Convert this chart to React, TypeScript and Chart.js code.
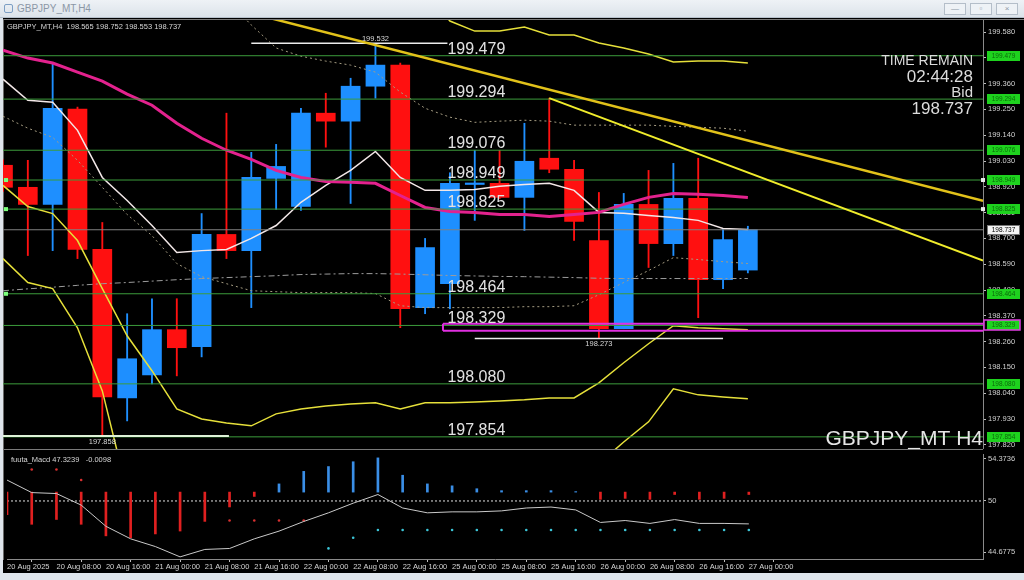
import React, { useEffect, useRef } from 'react';
import { Chart, registerables } from 'chart.js';

Chart.register(...registerables);

// ---------- data ----------
const windowTitle = 'GBPJPY_MT,H4';
const infoText = 'GBPJPY_MT,H4  198.565 198.752 198.553 198.737';
const macdInfo = 'fuuta_Macd 47.3239   -0.0098';
const symbolText = 'GBPJPY_MT H4';
const timeRemainLines = ['TIME REMAIN', '02:44:28', 'Bid', '198.737'];

const timeTickBars = [0, 2, 4, 6, 8, 10, 12, 14, 16, 18, 20, 22, 24, 26, 28, 30];
const timeTickLabels = [
  '20 Aug 2025', '20 Aug 08:00', '20 Aug 16:00', '21 Aug 00:00', '21 Aug 08:00', '21 Aug 16:00',
  '22 Aug 00:00', '22 Aug 08:00', '22 Aug 16:00', '25 Aug 00:00', '25 Aug 08:00', '25 Aug 16:00',
  '26 Aug 00:00', '26 Aug 08:00', '26 Aug 16:00', '27 Aug 00:00',
];

const opens = [199.012, 198.918, 198.845, 199.251, 198.653, 198.020, 198.118, 198.311, 198.238, 198.717,
  198.648, 198.956, 198.836, 199.234, 199.200, 199.349, 199.439, 198.405, 198.507, 198.930,
  198.935, 198.875, 199.042, 198.995, 198.691, 198.315, 198.845, 198.678, 198.871, 198.524, 198.565];
const highs = [199.035, 199.033, 199.448, 199.260, 198.768, 198.379, 198.443, 198.443, 198.806, 199.234,
  199.067, 199.101, 199.255, 199.319, 199.383, 199.532, 199.448, 198.700, 198.980, 199.076,
  199.076, 199.191, 199.298, 199.033, 198.896, 198.892, 198.990, 199.020, 199.042, 198.742, 198.752];
const lows = [198.900, 198.627, 198.648, 198.614, 197.858, 197.922, 198.080, 198.114, 198.195, 198.614,
  198.405, 198.824, 198.819, 199.089, 198.849, 199.298, 198.319, 198.379, 198.400, 198.777,
  198.870, 198.734, 198.980, 198.691, 198.273, 198.315, 198.576, 198.627, 198.362, 198.486, 198.553];
const closes = [198.918, 198.845, 199.255, 198.653, 198.024, 198.187, 198.311, 198.234, 198.717, 198.648,
  198.960, 199.007, 199.234, 199.200, 199.349, 199.439, 198.401, 198.661, 198.935, 198.936,
  198.875, 199.029, 198.995, 198.772, 198.315, 198.845, 198.678, 198.871, 198.524, 198.695, 198.737];

const maMagenta = [199.503, 199.469, 199.448, 199.409, 199.371, 199.315, 199.268, 199.191, 199.127, 199.076,
  199.037, 198.990, 198.960, 198.943, 198.939, 198.935, 198.883, 198.832, 198.815, 198.811,
  198.802, 198.802, 198.794, 198.802, 198.811, 198.845, 198.875, 198.892, 198.888, 198.883, 198.875];
const maWhite = [199.379, 199.289, 199.281, 199.161, 198.960, 198.862, 198.755, 198.640, 198.648, 198.653,
  198.700, 198.755, 198.854, 198.926, 198.990, 199.071, 198.960, 198.905, 198.905, 198.909,
  198.922, 198.930, 198.935, 198.905, 198.811, 198.807, 198.798, 198.789, 198.777, 198.742, 198.738];
const bandUpper = [null, null, null, null, null, null, null, null, null, null,
  null, null, null, null, null, null, null, 199.750, 199.627, 199.584,
  199.584, 199.601, 199.567, 199.567, 199.533, 199.512, 199.486, 199.452, 199.456, 199.456, 199.448];
const bandLowerA = [198.926, 198.836, 198.806, 198.691, 198.486, 198.285, 198.136, 197.973, 197.930, 197.913,
  197.901, 197.952, 197.973, 197.986, 197.994, 197.999, 197.973, 197.999, 197.999, 198.003,
  198.007, 198.012, 198.020, 198.020, 198.084, 198.170, 198.251, 198.328, 198.319, 198.315, 198.311];
const bandLowerB = [198.614, 198.512, 198.486, 198.319, 198.050, 197.620, null, null, null, null,
  null, null, null, null, null, null, null, null, null, null,
  null, null, null, null, 197.740, 197.832, 197.918, 198.059, 198.033, 198.024, 198.016];
const dottedUpper = [null, null, null, null, null, null, null, null, null, 199.720,
  199.610, 199.512, 199.477, 199.456, 199.439, 199.409, 199.324, 199.255, 199.217, 199.195,
  199.200, 199.204, 199.200, 199.183, 199.183, 199.183, 199.183, 199.178, 199.174, 199.170, 199.157];
const dottedLower = [199.221, 199.170, 199.131, 199.033, 198.918, 198.802, 198.712, 198.593, 198.537, 198.507,
  198.477, 198.473, 198.469, 198.469, 198.469, 198.465, 198.413, 198.405, 198.405, 198.405,
  198.405, 198.409, 198.409, 198.413, 198.460, 198.512, 198.563, 198.618, 198.610, 198.601, 198.593];
const dashDotMid = [198.477, 198.485, 198.492, 198.500, 198.507, 198.512, 198.518, 198.524, 198.529, 198.533,
  198.537, 198.541, 198.546, 198.548, 198.550, 198.550, 198.548, 198.545, 198.542, 198.540,
  198.538, 198.537, 198.535, 198.533, 198.530, 198.529, 198.529, 198.529, 198.529, 198.529, 198.529];

const trendLine1 = [{ x: 10, y: 199.660 }, { x: 39.47, y: 198.860 }];
const trendLine2 = [{ x: 22, y: 199.298 }, { x: 39.47, y: 198.606 }];

const levelPrices = [199.479, 199.294, 199.076, 198.949, 198.825, 198.464, 198.329, 198.080, 197.854];
const leftMarkLevels = [198.949, 198.825, 198.464];
const bidPrice = 198.737;
const markerPrices = [199.532, 198.273, 197.858];
const markerBars = [15, 24, 4];
const markerFrom = [10, 19, 0];
const markerTo = [17.9, 29, 9.1];
const rectTop = 198.336;
const rectBottom = 198.306;
const rectFrom = 17.72;
const levelLabelBar = 17.9;

const priceTicks = [199.58, 199.47, 199.36, 199.25, 199.14, 199.03, 198.92, 198.81, 198.70, 198.59,
  198.48, 198.37, 198.26, 198.15, 198.04, 197.93, 197.82];

const macdLine = [52.17, 50.87, 50.77, 49.57, 47.37, 46.07, 45.27, 44.20, 44.97, 45.07,
  46.07, 46.87, 47.87, 48.77, 49.77, 50.67, 49.27, 48.77, 48.87, 48.87,
  48.97, 49.27, 49.37, 49.07, 47.77, 47.97, 47.67, 48.07, 47.67, 47.67, 47.62];
const macdHist = [48.57, 47.58, 48.08, 47.58, 46.38, 46.18, 46.58, 46.88, 47.88, 49.38,
  50.47, 51.77, 53.07, 53.57, 54.07, 54.47, 52.67, 51.77, 51.57, 51.27,
  51.07, 51.07, 51.07, 50.97, 50.17, 50.27, 50.17, 50.67, 50.17, 50.27, 50.67];
const macdBase = 50.92;
const macdRedDotsHigh = [null, 53.27, 53.27, 52.17];
const macdRedDotsLow = [null, null, null, null, null, null, null, null, null, 47.98, 47.98, 47.98, 47.98];
const macdCyanDots = [null, null, null, null, null, null, null, null, null, null,
  null, null, null, 45.08, 46.18, 46.98, 46.98, 46.98, 46.98, 46.98,
  46.98, 46.98, 46.98, 46.98, 46.98, 46.98, 46.98, 46.98, 46.98, 46.98, 46.98];
const macdTicks = [54.3736, 50, 44.6775];
const macdTickLabels = ['54.3736', '50', '44.6775'];

// ---------- helpers ----------
const X_MAX = 39.47;
const FONT = '"Liberation Sans", Arial, sans-serif';
const toXY = (arr: (number | null)[]) => arr.map((v, i) => ({ x: i, y: v }));
const candleColor = (i: number) => (closes[i] >= opens[i] ? '#1e8fff' : '#ff1010');

const lineDs = (data: any[], color: string, width: number, order: number, dash: number[] = []) => ({
  type: 'line' as const,
  data,
  borderColor: color,
  borderWidth: width,
  borderDash: dash,
  pointRadius: 0,
  tension: 0,
  fill: false,
  spanGaps: false,
  order,
});

const dotDs = (arr: (number | null)[], color: string, order: number) => ({
  type: 'line' as const,
  data: toXY(arr),
  showLine: false,
  pointRadius: 1.3,
  pointBorderWidth: 0,
  pointBackgroundColor: color,
  order,
});

const fixAxisWidth = (w: number) => (s: any) => {
  s.width = w;
  s.paddingTop = 0; s.paddingBottom = 0; s.paddingLeft = 0; s.paddingRight = 0;
};
const fixAxisHeight = (h: number) => (s: any) => {
  s.height = h;
  s.paddingTop = 0; s.paddingBottom = 0; s.paddingLeft = 0; s.paddingRight = 0;
};

const mainOverlay = {
  id: 'mainOverlay',
  afterDatasetsDraw(chart: any) {
    const { ctx, chartArea: ca, scales } = chart;
    const xs = scales.x;
    const ys = scales.y;
    ctx.save();
    // info text
    ctx.font = `7.5px ${FONT}`;
    ctx.fillStyle = '#d6d6d6';
    ctx.textAlign = 'left';
    ctx.textBaseline = 'middle';
    ctx.fillText(infoText, ca.left + 4, ca.top + 7);

    // level labels
    ctx.font = `16px ${FONT}`;
    ctx.fillStyle = '#e2e2e2';
    ctx.textBaseline = 'alphabetic';
    const lx = xs.getPixelForValue(levelLabelBar);
    levelPrices.forEach((v) => ctx.fillText(v.toFixed(3), lx, ys.getPixelForValue(v) - 2));

    // marker labels
    ctx.font = `7.5px ${FONT}`;
    ctx.fillStyle = '#d8d8d8';
    ctx.textAlign = 'center';
    markerPrices.forEach((p, i) => {
      const px = xs.getPixelForValue(markerBars[i]);
      const py = ys.getPixelForValue(p);
      if (i === 0) {
        ctx.textBaseline = 'bottom';
        ctx.fillText(p.toFixed(3), px, py - 1);
      } else {
        ctx.textBaseline = 'top';
        ctx.fillText(p.toFixed(3), px, py + 2);
      }
    });

    // time remain block
    ctx.textAlign = 'right';
    ctx.textBaseline = 'middle';
    ctx.fillStyle = '#dcdcdc';
    const rx = ca.right - 10;
    ctx.font = `14px ${FONT}`;
    ctx.fillText(timeRemainLines[0], rx, ca.top + 41);
    ctx.font = `17px ${FONT}`;
    ctx.fillText(timeRemainLines[1], rx, ca.top + 57);
    ctx.font = `15px ${FONT}`;
    ctx.fillText(timeRemainLines[2], rx, ca.top + 73);
    ctx.font = `17px ${FONT}`;
    ctx.fillText(timeRemainLines[3], rx, ca.top + 89);

    // symbol
    ctx.font = `21px ${FONT}`;
    ctx.fillStyle = '#e6e6e6';
    ctx.textBaseline = 'alphabetic';
    ctx.fillText(symbolText, ca.right, ca.bottom - 4);

    // left small marks
    ctx.fillStyle = '#7dff7d';
    leftMarkLevels.forEach((v) => {
      const py = ys.getPixelForValue(v);
      ctx.fillRect(ca.left + 1, py - 2, 4, 4);
    });
    ctx.fillStyle = '#e8e8e8';
    leftMarkLevels.slice(0, 2).forEach((v) => {
      const py = ys.getPixelForValue(v);
      ctx.fillRect(ca.right - 2, py - 2, 4, 4);
    });

    // price axis boxes
    ctx.font = `6.5px ${FONT}`;
    ctx.textAlign = 'center';
    ctx.textBaseline = 'middle';
    const bx = ca.right + 4;
    const bw = 33;
    levelPrices.forEach((v) => {
      const py = Math.round(ys.getPixelForValue(v));
      ctx.fillStyle = '#1ed21e';
      ctx.fillRect(bx, py - 5, bw, 10);
      if (Math.abs(v - 198.329) < 1e-6) {
        ctx.strokeStyle = '#e23ce2';
        ctx.lineWidth = 1.5;
        ctx.strokeRect(bx - 3, py - 5, bw + 3, 10);
      }
      ctx.fillStyle = '#0b6a0b';
      ctx.fillText(v.toFixed(3), bx + bw / 2, py + 0.5);
    });
    const by = Math.round(ys.getPixelForValue(bidPrice));
    ctx.fillStyle = '#f4f4f4';
    ctx.fillRect(bx, by - 5, bw, 10);
    ctx.strokeStyle = '#777';
    ctx.lineWidth = 1;
    ctx.strokeRect(bx + 0.5, by - 4.5, bw - 1, 9);
    ctx.fillStyle = '#000';
    ctx.fillText(bidPrice.toFixed(3), bx + bw / 2, by + 0.5);
    ctx.restore();
  },
};

const subOverlay = {
  id: 'subOverlay',
  afterDatasetsDraw(chart: any) {
    const { ctx, chartArea: ca } = chart;
    ctx.save();
    ctx.font = `7.5px ${FONT}`;
    ctx.fillStyle = '#d6d6d6';
    ctx.textAlign = 'left';
    ctx.textBaseline = 'middle';
    ctx.fillText(macdInfo, ca.left + 4, ca.top + 6);
    ctx.restore();
  },
};

export default function App() {
  const mainRef = useRef<HTMLCanvasElement>(null);
  const subRef = useRef<HTMLCanvasElement>(null);

  useEffect(() => {
    const colors = opens.map((_, i) => candleColor(i));
    const xScaleBase = {
      type: 'linear' as const,
      min: 0,
      max: X_MAX,
      offset: false,
    };

    const mainDatasets: any[] = [
      {
        type: 'bar',
        data: opens.map((_, i) => ({ x: i, y: [lows[i], highs[i]] })),
        backgroundColor: colors,
        barThickness: 1.2,
        grouped: false,
        borderWidth: 0,
        order: 31,
      },
      {
        type: 'bar',
        data: opens.map((o, i) => ({ x: i, y: [o, closes[i]] })),
        backgroundColor: colors,
        barThickness: 19,
        grouped: false,
        borderWidth: 0,
        minBarLength: 1.5,
        order: 30,
      },
      lineDs(toXY(dashDotMid), '#9c9c9c', 1, 20, [6, 3, 2, 3]),
      lineDs(toXY(dottedUpper), '#a59c82', 1, 19, [2, 3]),
      lineDs(toXY(dottedLower), '#a59c82', 1, 19, [2, 3]),
      lineDs(toXY(bandUpper), '#e6e03a', 1.5, 18),
      lineDs(toXY(bandLowerA), '#e6e03a', 1.5, 18),
      lineDs(toXY(bandLowerB), '#e6e03a', 1.5, 18),
      lineDs(toXY(maWhite), '#f3e8e8', 1.5, 17),
      lineDs(toXY(maMagenta), '#e3228e', 3, 16),
      lineDs([{ x: 0, y: bidPrice }, { x: X_MAX, y: bidPrice }], '#808080', 1, 12),
      ...levelPrices.map((v) => lineDs([{ x: 0, y: v }, { x: X_MAX, y: v }], '#3c9c3c', 1, 10)),
      ...markerPrices.map((v, i) =>
        lineDs([{ x: markerFrom[i], y: v }, { x: markerTo[i], y: v }], i === 2 ? '#dff2d8' : '#ececec', i === 2 ? 2 : 1.5, 8)),
      lineDs([{ x: rectFrom, y: rectTop }, { x: X_MAX, y: rectTop }], '#e030e0', 2, 6),
      lineDs([{ x: rectFrom, y: rectBottom }, { x: X_MAX, y: rectBottom }], '#e030e0', 2, 6),
      lineDs([{ x: rectFrom, y: rectTop }, { x: rectFrom, y: rectBottom }], '#e030e0', 2, 6),
      lineDs(trendLine1, '#e2c21a', 2.5, 2),
      lineDs(trendLine2, '#f0ec2c', 2, 1),
    ];

    const mainChart = new Chart(mainRef.current as HTMLCanvasElement, {
      type: 'bar',
      data: { datasets: mainDatasets },
      options: {
        responsive: false,
        maintainAspectRatio: false,
        animation: false,
        devicePixelRatio: 1,
        events: [],
        layout: { padding: 0 },
        plugins: { legend: { display: false }, tooltip: { enabled: false } },
        scales: {
          x: { ...xScaleBase, display: false },
          y: {
            type: 'linear',
            position: 'right',
            min: 197.8022,
            max: 199.6313,
            afterFit: fixAxisWidth(41),
            afterBuildTicks: (s: any) => { s.ticks = priceTicks.map((v) => ({ value: v })); },
            ticks: {
              color: '#d0d0d0',
              font: { size: 7.5, family: FONT },
              padding: 2,
              autoSkip: false,
              callback: (v: any) => Number(v).toFixed(3),
            },
            grid: { display: true, drawOnChartArea: false, drawTicks: true, tickLength: 3, color: '#bdbdbd' },
            border: { display: true, color: '#8a8a8a' },
          },
        },
      } as any,
      plugins: [mainOverlay],
    });

    const subDatasets: any[] = [
      lineDs([{ x: 0, y: 50 }, { x: X_MAX, y: 50 }], '#e0e0e0', 1, 10, [2, 2]),
      {
        type: 'bar',
        data: macdHist.map((v, i) => ({ x: i, y: [macdBase, v] })),
        backgroundColor: macdHist.map((v) => (v >= macdBase ? '#3a8ee6' : '#e02020')),
        barThickness: 2,
        grouped: false,
        borderWidth: 0,
        order: 8,
      },
      dotDs(macdRedDotsHigh, '#d83030', 6),
      dotDs(macdRedDotsLow, '#d83030', 6),
      dotDs(macdCyanDots, '#3cc6d8', 6),
      lineDs(toXY(macdLine), '#c9c9c9', 1, 4),
    ];

    const subChart = new Chart(subRef.current as HTMLCanvasElement, {
      type: 'bar',
      data: { datasets: subDatasets },
      options: {
        responsive: false,
        maintainAspectRatio: false,
        animation: false,
        devicePixelRatio: 1,
        events: [],
        layout: { padding: 0 },
        plugins: { legend: { display: false }, tooltip: { enabled: false } },
        scales: {
          x: {
            ...xScaleBase,
            position: 'bottom',
            afterFit: fixAxisHeight(14),
            afterBuildTicks: (s: any) => { s.ticks = timeTickBars.map((v) => ({ value: v })); },
            ticks: {
              color: '#d4d4d4',
              font: { size: 7.5, family: FONT },
              padding: 0,
              align: 'start',
              autoSkip: false,
              maxRotation: 0,
              minRotation: 0,
              callback: (v: any) => {
                const idx = timeTickBars.indexOf(Number(v));
                return idx >= 0 ? timeTickLabels[idx] : '';
              },
            },
            grid: { display: true, drawOnChartArea: false, drawTicks: true, tickLength: 3, color: '#bdbdbd' },
            border: { display: true, color: '#8a8a8a' },
          },
          y: {
            type: 'linear',
            position: 'right',
            min: 43.978,
            max: 54.873,
            afterFit: fixAxisWidth(41),
            afterBuildTicks: (s: any) => { s.ticks = macdTicks.map((v) => ({ value: v })); },
            ticks: {
              color: '#d0d0d0',
              font: { size: 7.5, family: FONT },
              padding: 2,
              autoSkip: false,
              callback: (v: any) => {
                const idx = macdTicks.indexOf(Number(v));
                return idx >= 0 ? macdTickLabels[idx] : '';
              },
            },
            grid: { display: true, drawOnChartArea: false, drawTicks: true, tickLength: 3, color: '#bdbdbd' },
            border: { display: true, color: '#8a8a8a' },
          },
        },
      } as any,
      plugins: [subOverlay],
    });

    return () => {
      mainChart.destroy();
      subChart.destroy();
    };
  }, []);

  const btn = (left: number, glyph: string) => (
    <div
      style={{
        position: 'absolute', left, top: 3, width: 22, height: 12,
        border: '1px solid #b4bec9', background: '#eef2f6', boxSizing: 'border-box',
        fontSize: 8, lineHeight: '10px', textAlign: 'center', color: '#8a96a4', fontFamily: FONT,
      }}
    >
      {glyph}
    </div>
  );

  return (
    <div style={{ position: 'absolute', left: 0, top: 0, width: 1024, height: 580, background: '#dfe5ec', overflow: 'hidden' }}>
      {/* title bar */}
      <div style={{ position: 'absolute', left: 0, top: 0, width: 1024, height: 18, background: 'linear-gradient(#eef2f6, #dce3ea)', borderBottom: '1px solid #b7c1cc', boxSizing: 'border-box' }} />
      <div style={{ position: 'absolute', left: 4, top: 4, width: 9, height: 9, border: '1px solid #7d9fc4', borderRadius: 2, boxSizing: 'border-box' }} />
      <div style={{ position: 'absolute', left: 17, top: 3, fontFamily: FONT, fontSize: 10, color: '#8b97a6', lineHeight: '12px' }}>{windowTitle}</div>
      {btn(944, '—')}
      {btn(970, '▫')}
      {btn(996, '×')}
      {/* chart background */}
      <div style={{ position: 'absolute', left: 3, top: 18, width: 1021, height: 555, background: '#000' }} />
      <div style={{ position: 'absolute', left: 3, top: 19, width: 1021, height: 1, background: '#7a7a7a' }} />
      <div style={{ position: 'absolute', left: 3, top: 449, width: 980, height: 1, background: '#7a7a7a' }} />
      <div style={{ position: 'absolute', left: 3, top: 19, width: 1, height: 541, background: '#6a6a6a' }} />
      <canvas ref={mainRef} width={1021} height={429} style={{ position: 'absolute', left: 3, top: 20, width: 1021, height: 429 }} />
      <canvas ref={subRef} width={1021} height={123} style={{ position: 'absolute', left: 3, top: 450, width: 1021, height: 123 }} />
    </div>
  );
}
